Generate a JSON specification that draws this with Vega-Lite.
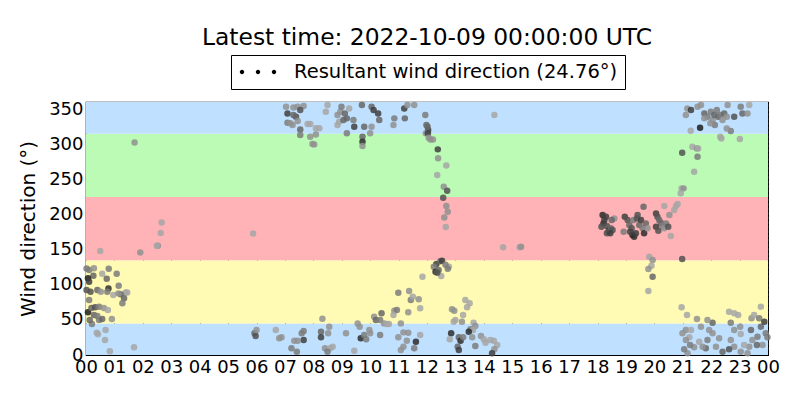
{
  "$schema": "https://vega.github.io/schema/vega-lite/v6.json",
  "autosize": {"type": "none"},
  "width": 682,
  "height": 253,
  "padding": {"left": 86, "top": 102, "right": 32, "bottom": 45},
  "background": "white",
  "title": {
    "text": "Latest time: 2022-10-09 00:00:00 UTC",
    "fontSize": 23.4,
    "fontWeight": "normal",
    "color": "black",
    "anchor": "middle",
    "frame": "group",
    "baseline": "alphabetic",
    "offset": -14
  },
  "config": {
    "font": "DejaVu Sans",
    "view": {"stroke": "black", "strokeWidth": 1.2},
    "axis": {
      "domain": false,
      "grid": true,
      "gridColor": "black",
      "gridDash": [1.5, 3],
      "gridOpacity": 1,
      "gridWidth": 1,
      "ticks": true,
      "tickSize": -5,
      "tickColor": "black",
      "tickWidth": 1,
      "labelFontSize": 18,
      "labelColor": "black",
      "labelPadding": 8,
      "labelOverlap": false,
      "labelFlush": false,
      "titleFontSize": 20,
      "titleFontWeight": "normal",
      "titleColor": "black",
      "zindex": 1
    }
  },
  "datasets": {
    "bands": [
      {"lo": 0, "hi": 45, "zone": "N"},
      {"lo": 45, "hi": 135, "zone": "E"},
      {"lo": 135, "hi": 225, "zone": "S"},
      {"lo": 225, "hi": 315, "zone": "W"},
      {"lo": 315, "hi": 360, "zone": "N2"}
    ],
    "obs": [
      {"hour": 1.71, "dir": 302.5, "spd": 3}, {"hour": 2.66, "dir": 188.7, "spd": 2}, {"hour": 2.63, "dir": 173.6, "spd": 2},
      {"hour": 2.53, "dir": 155.5, "spd": 3}, {"hour": 2.49, "dir": 155.5, "spd": 2}, {"hour": 1.91, "dir": 146, "spd": 3},
      {"hour": 0.5, "dir": 148, "spd": 2}, {"hour": 5.88, "dir": 173, "spd": 2}, {"hour": 1.69, "dir": 10.9, "spd": 2},
      {"hour": 0.84, "dir": 5.2, "spd": 2}, {"hour": 0.67, "dir": 21.3, "spd": 2}, {"hour": 0.42, "dir": 29.4, "spd": 2},
      {"hour": 0.38, "dir": 31.8, "spd": 2}, {"hour": 0.69, "dir": 35.6, "spd": 2}, {"hour": 0.21, "dir": 44.1, "spd": 4},
      {"hour": 0.13, "dir": 49.8, "spd": 5}, {"hour": 0.46, "dir": 49.8, "spd": 4}, {"hour": 0.57, "dir": 51.2, "spd": 5},
      {"hour": 0.91, "dir": 51.2, "spd": 3}, {"hour": 0.07, "dir": 60.7, "spd": 9}, {"hour": 0.19, "dir": 66.9, "spd": 5},
      {"hour": 0.32, "dir": 67.8, "spd": 6}, {"hour": 0.46, "dir": 68.8, "spd": 4}, {"hour": 0.63, "dir": 66.9, "spd": 3},
      {"hour": 0.77, "dir": 64.0, "spd": 2}, {"hour": 0.28, "dir": 56.9, "spd": 5}, {"hour": 0.4, "dir": 55.5, "spd": 4},
      {"hour": 1.15, "dir": 98.6, "spd": 4}, {"hour": 1.4, "dir": 89.1, "spd": 2}, {"hour": 1.45, "dir": 89.1, "spd": 2},
      {"hour": 1.34, "dir": 80.6, "spd": 5}, {"hour": 1.28, "dir": 73.5, "spd": 4}, {"hour": 1.22, "dir": 86.3, "spd": 5},
      {"hour": 0.11, "dir": 120.9, "spd": 4}, {"hour": 0.28, "dir": 123.3, "spd": 3}, {"hour": 0.8, "dir": 122.8, "spd": 4},
      {"hour": 1.08, "dir": 115.7, "spd": 4}, {"hour": 0.57, "dir": 115.7, "spd": 2}, {"hour": 0.26, "dir": 112.9, "spd": 5},
      {"hour": 0.73, "dir": 108.6, "spd": 5}, {"hour": 0.07, "dir": 109.1, "spd": 9}, {"hour": 0.11, "dir": 104.3, "spd": 7},
      {"hour": 0.16, "dir": 90.1, "spd": 6}, {"hour": 0.02, "dir": 92.5, "spd": 6}, {"hour": 0.4, "dir": 92.5, "spd": 5},
      {"hour": 0.52, "dir": 90.1, "spd": 3}, {"hour": 0.79, "dir": 94.8, "spd": 8}, {"hour": 0.75, "dir": 90.1, "spd": 4},
      {"hour": 0.96, "dir": 85.4, "spd": 2}, {"hour": 1.14, "dir": 87.7, "spd": 3}, {"hour": 0.11, "dir": 78.3, "spd": 4},
      {"hour": 0.02, "dir": 123, "spd": 4},
      {"hour": 5.93, "dir": 30.8, "spd": 5}, {"hour": 5.97, "dir": 27, "spd": 6}, {"hour": 6.0, "dir": 35.6, "spd": 3},
      {"hour": 7.04, "dir": 353.3, "spd": 3}, {"hour": 7.09, "dir": 343.8, "spd": 7}, {"hour": 7.3, "dir": 352.3, "spd": 3},
      {"hour": 7.45, "dir": 353.3, "spd": 3}, {"hour": 7.66, "dir": 354.2, "spd": 3}, {"hour": 7.54, "dir": 348.5, "spd": 6},
      {"hour": 7.39, "dir": 339.1, "spd": 6}, {"hour": 7.3, "dir": 341.4, "spd": 5}, {"hour": 7.09, "dir": 330.5, "spd": 4},
      {"hour": 7.19, "dir": 329.6, "spd": 3}, {"hour": 7.27, "dir": 327.2, "spd": 3}, {"hour": 7.45, "dir": 332.9, "spd": 3},
      {"hour": 7.54, "dir": 321.0, "spd": 5}, {"hour": 7.8, "dir": 328.6, "spd": 2}, {"hour": 7.89, "dir": 328.6, "spd": 2},
      {"hour": 8.09, "dir": 322.5, "spd": 2}, {"hour": 8.21, "dir": 322.5, "spd": 2}, {"hour": 7.54, "dir": 313.0, "spd": 4},
      {"hour": 8.09, "dir": 313.9, "spd": 3}, {"hour": 7.89, "dir": 310.6, "spd": 3}, {"hour": 7.97, "dir": 300.2, "spd": 3},
      {"hour": 8.03, "dir": 299.7, "spd": 3}, {"hour": 8.44, "dir": 346.2, "spd": 2}, {"hour": 8.5, "dir": 355.6, "spd": 2},
      {"hour": 8.85, "dir": 341.4, "spd": 3}, {"hour": 8.95, "dir": 346.2, "spd": 3}, {"hour": 8.91, "dir": 332.0, "spd": 2},
      {"hour": 9.06, "dir": 334.3, "spd": 5}, {"hour": 9.11, "dir": 343.8, "spd": 5}, {"hour": 9.26, "dir": 350.9, "spd": 2},
      {"hour": 8.99, "dir": 353.3, "spd": 4}, {"hour": 8.85, "dir": 327.2, "spd": 2}, {"hour": 9.18, "dir": 315.4, "spd": 4},
      {"hour": 9.18, "dir": 336.7, "spd": 5}, {"hour": 9.44, "dir": 324.9, "spd": 7}, {"hour": 9.41, "dir": 334.3, "spd": 4},
      {"hour": 9.71, "dir": 355.6, "spd": 5}, {"hour": 9.79, "dir": 324.9, "spd": 5}, {"hour": 9.73, "dir": 310.6, "spd": 5},
      {"hour": 9.73, "dir": 303.5, "spd": 8}, {"hour": 9.73, "dir": 297.3, "spd": 3}, {"hour": 10.0, "dir": 315.4, "spd": 3},
      {"hour": 10.05, "dir": 324.9, "spd": 3}, {"hour": 10.05, "dir": 353.3, "spd": 5}, {"hour": 10.12, "dir": 348.5, "spd": 7},
      {"hour": 10.32, "dir": 334.3, "spd": 5}, {"hour": 10.28, "dir": 343.8, "spd": 7}, {"hour": 10.82, "dir": 327.2, "spd": 3},
      {"hour": 10.85, "dir": 336.7, "spd": 4}, {"hour": 11.2, "dir": 350.9, "spd": 7}, {"hour": 11.22, "dir": 336.7, "spd": 5},
      {"hour": 11.31, "dir": 355.6, "spd": 3}, {"hour": 11.55, "dir": 355.6, "spd": 3}, {"hour": 12.04, "dir": 320.1, "spd": 7},
      {"hour": 11.96, "dir": 315.4, "spd": 3}, {"hour": 12.02, "dir": 324.9, "spd": 5},
      {"hour": 6.68, "dir": 35.6, "spd": 2}, {"hour": 6.8, "dir": 23.7, "spd": 3}, {"hour": 6.88, "dir": 25.1, "spd": 3},
      {"hour": 7.59, "dir": 30.8, "spd": 4}, {"hour": 7.66, "dir": 21.3, "spd": 7}, {"hour": 7.45, "dir": 20.4, "spd": 3},
      {"hour": 7.33, "dir": 20.4, "spd": 3}, {"hour": 7.66, "dir": 34.1, "spd": 4}, {"hour": 7.23, "dir": 9.5, "spd": 4},
      {"hour": 7.42, "dir": 4.7, "spd": 4}, {"hour": 8.32, "dir": 51.7, "spd": 3}, {"hour": 8.27, "dir": 33.2, "spd": 5},
      {"hour": 8.27, "dir": 25.1, "spd": 7}, {"hour": 8.56, "dir": 40.3, "spd": 3}, {"hour": 8.52, "dir": 30.8, "spd": 3},
      {"hour": 8.41, "dir": 9.5, "spd": 3}, {"hour": 8.59, "dir": 9.5, "spd": 2}, {"hour": 8.68, "dir": 11.9, "spd": 2},
      {"hour": 8.5, "dir": 4.7, "spd": 4}, {"hour": 9.15, "dir": 30.8, "spd": 3}, {"hour": 9.44, "dir": 6.2, "spd": 2},
      {"hour": 9.56, "dir": 45.0, "spd": 3}, {"hour": 9.63, "dir": 40.3, "spd": 3}, {"hour": 9.67, "dir": 23.7, "spd": 8},
      {"hour": 9.79, "dir": 28.4, "spd": 4}, {"hour": 9.97, "dir": 35.6, "spd": 3}, {"hour": 9.86, "dir": 22.3, "spd": 4},
      {"hour": 10.0, "dir": 30.8, "spd": 3}, {"hour": 10.14, "dir": 54.5, "spd": 3}, {"hour": 10.2, "dir": 49.8, "spd": 5},
      {"hour": 10.35, "dir": 49.8, "spd": 4}, {"hour": 10.4, "dir": 59.3, "spd": 5}, {"hour": 10.35, "dir": 28.4, "spd": 4},
      {"hour": 10.49, "dir": 45.0, "spd": 3}, {"hour": 10.59, "dir": 44.1, "spd": 2}, {"hour": 10.66, "dir": 44.1, "spd": 2},
      {"hour": 10.85, "dir": 63.1, "spd": 3}, {"hour": 10.94, "dir": 64.0, "spd": 4}, {"hour": 10.99, "dir": 88.7, "spd": 4},
      {"hour": 11.37, "dir": 91.1, "spd": 3}, {"hour": 11.43, "dir": 78.3, "spd": 4}, {"hour": 11.5, "dir": 83.0, "spd": 2},
      {"hour": 11.71, "dir": 79.2, "spd": 3}, {"hour": 11.76, "dir": 66.4, "spd": 2}, {"hour": 11.84, "dir": 111.4, "spd": 2},
      {"hour": 11.34, "dir": 60.7, "spd": 3}, {"hour": 10.82, "dir": 56.9, "spd": 2}, {"hour": 11.08, "dir": 45.0, "spd": 3},
      {"hour": 10.99, "dir": 25.1, "spd": 3}, {"hour": 11.17, "dir": 32.2, "spd": 3}, {"hour": 11.34, "dir": 31.8, "spd": 3},
      {"hour": 11.29, "dir": 20.4, "spd": 3}, {"hour": 11.61, "dir": 19.0, "spd": 8}, {"hour": 11.55, "dir": 9.5, "spd": 4},
      {"hour": 11.76, "dir": 28.4, "spd": 2}, {"hour": 11.17, "dir": 11.9, "spd": 3}, {"hour": 11.08, "dir": 7.1, "spd": 3},
      {"hour": 11.94, "dir": 341.4, "spd": 4}, {"hour": 11.98, "dir": 327.2, "spd": 5}, {"hour": 12.03, "dir": 315.4, "spd": 7},
      {"hour": 12.06, "dir": 309.2, "spd": 3}, {"hour": 12.12, "dir": 306.8, "spd": 3}, {"hour": 12.21, "dir": 306.8, "spd": 3},
      {"hour": 12.38, "dir": 292.6, "spd": 7}, {"hour": 12.39, "dir": 279.8, "spd": 3}, {"hour": 12.68, "dir": 269.8, "spd": 2},
      {"hour": 12.36, "dir": 256.1, "spd": 2}, {"hour": 12.59, "dir": 239.5, "spd": 3}, {"hour": 12.71, "dir": 233.8, "spd": 6},
      {"hour": 12.57, "dir": 223.8, "spd": 6}, {"hour": 12.68, "dir": 212.0, "spd": 3}, {"hour": 12.73, "dir": 203.9, "spd": 3},
      {"hour": 12.61, "dir": 195.8, "spd": 3}, {"hour": 12.66, "dir": 182.1, "spd": 2}, {"hour": 12.33, "dir": 129.5, "spd": 7},
      {"hour": 12.47, "dir": 133.3, "spd": 5}, {"hour": 12.53, "dir": 134.2, "spd": 7}, {"hour": 12.24, "dir": 125.7, "spd": 4},
      {"hour": 12.3, "dir": 118.6, "spd": 8}, {"hour": 12.41, "dir": 120.9, "spd": 5}, {"hour": 12.5, "dir": 112.4, "spd": 2},
      {"hour": 12.77, "dir": 125.7, "spd": 2}, {"hour": 12.73, "dir": 122.8, "spd": 4}, {"hour": 12.65, "dir": 128.5, "spd": 4},
      {"hour": 12.36, "dir": 117.1, "spd": 6}, {"hour": 14.68, "dir": 153.2, "spd": 2}, {"hour": 15.26, "dir": 153.2, "spd": 2},
      {"hour": 15.31, "dir": 154.1, "spd": 3}, {"hour": 14.37, "dir": 341.4, "spd": 2},
      {"hour": 13.35, "dir": 78.3, "spd": 2}, {"hour": 13.5, "dir": 73.5, "spd": 2}, {"hour": 13.41, "dir": 67.8, "spd": 2},
      {"hour": 12.88, "dir": 65.0, "spd": 3}, {"hour": 12.96, "dir": 63.1, "spd": 3}, {"hour": 13.0, "dir": 49.8, "spd": 2},
      {"hour": 13.27, "dir": 56.9, "spd": 2}, {"hour": 13.23, "dir": 47.4, "spd": 3}, {"hour": 12.94, "dir": 47.4, "spd": 2},
      {"hour": 13.64, "dir": 46.0, "spd": 2}, {"hour": 13.7, "dir": 41.3, "spd": 3}, {"hour": 13.53, "dir": 36.5, "spd": 4},
      {"hour": 13.62, "dir": 35.6, "spd": 2}, {"hour": 13.47, "dir": 33.2, "spd": 8}, {"hour": 12.85, "dir": 30.8, "spd": 8},
      {"hour": 12.8, "dir": 22.3, "spd": 2}, {"hour": 13.12, "dir": 25.1, "spd": 5}, {"hour": 13.18, "dir": 20.4, "spd": 8},
      {"hour": 13.27, "dir": 25.1, "spd": 4}, {"hour": 13.59, "dir": 25.1, "spd": 3}, {"hour": 13.08, "dir": 11.9, "spd": 5},
      {"hour": 13.12, "dir": 7.1, "spd": 7}, {"hour": 13.7, "dir": 12.8, "spd": 4}, {"hour": 13.9, "dir": 27.0, "spd": 3},
      {"hour": 14.0, "dir": 22.3, "spd": 2}, {"hour": 14.06, "dir": 17.5, "spd": 2}, {"hour": 14.23, "dir": 21.3, "spd": 2},
      {"hour": 14.35, "dir": 20.4, "spd": 2}, {"hour": 14.47, "dir": 14.2, "spd": 2}, {"hour": 14.37, "dir": 8.1, "spd": 3},
      {"hour": 14.29, "dir": 2.4, "spd": 7},
      {"hour": 18.18, "dir": 199.2, "spd": 8}, {"hour": 18.3, "dir": 196.8, "spd": 7}, {"hour": 18.21, "dir": 187.3, "spd": 8},
      {"hour": 18.33, "dir": 183.5, "spd": 6}, {"hour": 18.41, "dir": 177.8, "spd": 7}, {"hour": 18.38, "dir": 175.5, "spd": 6},
      {"hour": 18.47, "dir": 180.2, "spd": 5}, {"hour": 18.53, "dir": 177.8, "spd": 6}, {"hour": 18.59, "dir": 194.4, "spd": 3},
      {"hour": 18.24, "dir": 192.0, "spd": 7}, {"hour": 18.33, "dir": 173.1, "spd": 6}, {"hour": 18.45, "dir": 173.1, "spd": 7},
      {"hour": 18.14, "dir": 182.6, "spd": 6}, {"hour": 18.5, "dir": 192.0, "spd": 5},
      {"hour": 18.96, "dir": 196.8, "spd": 7}, {"hour": 19.06, "dir": 192.0, "spd": 6}, {"hour": 19.12, "dir": 184.9, "spd": 5},
      {"hour": 19.2, "dir": 180.2, "spd": 6}, {"hour": 19.23, "dir": 170.7, "spd": 8}, {"hour": 19.29, "dir": 168.4, "spd": 8},
      {"hour": 19.35, "dir": 173.1, "spd": 7}, {"hour": 19.27, "dir": 192.0, "spd": 4}, {"hour": 19.39, "dir": 194.4, "spd": 6},
      {"hour": 19.47, "dir": 184.9, "spd": 5}, {"hour": 19.53, "dir": 192.0, "spd": 7}, {"hour": 19.59, "dir": 180.2, "spd": 4},
      {"hour": 19.64, "dir": 173.1, "spd": 8}, {"hour": 19.7, "dir": 187.3, "spd": 5}, {"hour": 19.76, "dir": 180.2, "spd": 3},
      {"hour": 19.62, "dir": 211.0, "spd": 5}, {"hour": 18.92, "dir": 175.5, "spd": 4}, {"hour": 19.41, "dir": 199.2, "spd": 6},
      {"hour": 19.15, "dir": 175.5, "spd": 7},
      {"hour": 20.06, "dir": 201.5, "spd": 7}, {"hour": 20.11, "dir": 196.8, "spd": 6}, {"hour": 20.17, "dir": 192.0, "spd": 5},
      {"hour": 20.23, "dir": 188.3, "spd": 5}, {"hour": 20.29, "dir": 183.5, "spd": 4}, {"hour": 20.35, "dir": 180.2, "spd": 3},
      {"hour": 20.41, "dir": 187.3, "spd": 4}, {"hour": 20.49, "dir": 182.6, "spd": 6}, {"hour": 20.58, "dir": 169.3, "spd": 2},
      {"hour": 20.06, "dir": 182.6, "spd": 7}, {"hour": 20.14, "dir": 176.9, "spd": 6}, {"hour": 20.35, "dir": 212.0, "spd": 2},
      {"hour": 20.53, "dir": 199.2, "spd": 3}, {"hour": 20.7, "dir": 206.3, "spd": 2}, {"hour": 20.76, "dir": 212.0, "spd": 2},
      {"hour": 20.82, "dir": 214.8, "spd": 2}, {"hour": 20.96, "dir": 237.1, "spd": 2}, {"hour": 21.03, "dir": 237.1, "spd": 3},
      {"hour": 20.93, "dir": 230.0, "spd": 2}, {"hour": 20.98, "dir": 287.9, "spd": 6}, {"hour": 20.98, "dir": 136.6, "spd": 6},
      {"hour": 19.82, "dir": 139.9, "spd": 2}, {"hour": 19.94, "dir": 135.1, "spd": 3}, {"hour": 19.9, "dir": 127.1, "spd": 2},
      {"hour": 19.79, "dir": 122.3, "spd": 3}, {"hour": 19.94, "dir": 111.4, "spd": 5}, {"hour": 19.79, "dir": 91.1, "spd": 2},
      {"hour": 21.34, "dir": 296.4, "spd": 2}, {"hour": 21.5, "dir": 294.0, "spd": 3}, {"hour": 21.54, "dir": 294.0, "spd": 2},
      {"hour": 21.52, "dir": 282.1, "spd": 4}, {"hour": 21.4, "dir": 260.8, "spd": 2}, {"hour": 21.28, "dir": 319.1, "spd": 2},
      {"hour": 21.61, "dir": 323.4, "spd": 9}, {"hour": 22.32, "dir": 310.6, "spd": 2}, {"hour": 22.36, "dir": 308.2, "spd": 2},
      {"hour": 22.69, "dir": 318.6, "spd": 4}, {"hour": 23.01, "dir": 307.3, "spd": 2}, {"hour": 22.55, "dir": 322.4, "spd": 3},
      {"hour": 21.11, "dir": 341.4, "spd": 3}, {"hour": 21.16, "dir": 350.9, "spd": 3}, {"hour": 21.29, "dir": 348.5, "spd": 7},
      {"hour": 21.52, "dir": 353.3, "spd": 3}, {"hour": 21.64, "dir": 355.6, "spd": 3}, {"hour": 21.76, "dir": 343.8, "spd": 5},
      {"hour": 21.87, "dir": 339.1, "spd": 4}, {"hour": 21.99, "dir": 346.2, "spd": 4}, {"hour": 22.05, "dir": 334.3, "spd": 3},
      {"hour": 22.11, "dir": 341.4, "spd": 5}, {"hour": 22.2, "dir": 348.5, "spd": 4}, {"hour": 22.25, "dir": 339.1, "spd": 5},
      {"hour": 22.32, "dir": 341.4, "spd": 4}, {"hour": 22.4, "dir": 334.3, "spd": 3}, {"hour": 22.46, "dir": 343.8, "spd": 5},
      {"hour": 22.58, "dir": 355.6, "spd": 3}, {"hour": 22.55, "dir": 339.1, "spd": 3}, {"hour": 22.81, "dir": 339.1, "spd": 6},
      {"hour": 23.04, "dir": 353.3, "spd": 4}, {"hour": 23.1, "dir": 343.8, "spd": 5}, {"hour": 23.28, "dir": 343.8, "spd": 3},
      {"hour": 23.34, "dir": 355.6, "spd": 2}, {"hour": 21.76, "dir": 336.7, "spd": 3}, {"hour": 22.13, "dir": 327.2, "spd": 4},
      {"hour": 21.97, "dir": 329.6, "spd": 3},
      {"hour": 20.96, "dir": 67.8, "spd": 2}, {"hour": 21.15, "dir": 56.9, "spd": 2}, {"hour": 21.5, "dir": 51.2, "spd": 3},
      {"hour": 22.05, "dir": 46.0, "spd": 5}, {"hour": 22.63, "dir": 61.7, "spd": 2}, {"hour": 22.81, "dir": 59.3, "spd": 2},
      {"hour": 22.95, "dir": 56.9, "spd": 2}, {"hour": 22.69, "dir": 46.0, "spd": 4}, {"hour": 22.81, "dir": 35.6, "spd": 3},
      {"hour": 23.02, "dir": 40.3, "spd": 3}, {"hour": 23.04, "dir": 29.9, "spd": 2}, {"hour": 23.4, "dir": 35.6, "spd": 5},
      {"hour": 23.42, "dir": 52.2, "spd": 3}, {"hour": 23.51, "dir": 56.9, "spd": 2}, {"hour": 23.75, "dir": 68.8, "spd": 2},
      {"hour": 23.69, "dir": 52.2, "spd": 4}, {"hour": 23.75, "dir": 40.3, "spd": 5}, {"hour": 23.87, "dir": 47.4, "spd": 7},
      {"hour": 23.92, "dir": 30.8, "spd": 4}, {"hour": 23.63, "dir": 26.1, "spd": 4}, {"hour": 23.45, "dir": 21.3, "spd": 3},
      {"hour": 23.34, "dir": 11.9, "spd": 3}, {"hour": 23.16, "dir": 14.2, "spd": 2}, {"hour": 23.04, "dir": 4.7, "spd": 3},
      {"hour": 22.81, "dir": 11.9, "spd": 3}, {"hour": 22.69, "dir": 21.3, "spd": 3}, {"hour": 22.63, "dir": 8.1, "spd": 6},
      {"hour": 22.4, "dir": 4.7, "spd": 5}, {"hour": 22.28, "dir": 23.7, "spd": 3}, {"hour": 22.17, "dir": 11.9, "spd": 3},
      {"hour": 22.05, "dir": 30.8, "spd": 3}, {"hour": 21.93, "dir": 35.6, "spd": 3}, {"hour": 21.87, "dir": 21.3, "spd": 4},
      {"hour": 21.81, "dir": 9.5, "spd": 5}, {"hour": 21.7, "dir": 11.9, "spd": 3}, {"hour": 21.58, "dir": 19.0, "spd": 2},
      {"hour": 21.4, "dir": 10.9, "spd": 3}, {"hour": 21.26, "dir": 14.2, "spd": 4}, {"hour": 21.17, "dir": 2.4, "spd": 3},
      {"hour": 21.05, "dir": 8.1, "spd": 4}, {"hour": 21.23, "dir": 25.1, "spd": 2}, {"hour": 21.11, "dir": 35.6, "spd": 3},
      {"hour": 21.29, "dir": 35.6, "spd": 2}, {"hour": 21.64, "dir": 40.3, "spd": 3}, {"hour": 21.87, "dir": 49.8, "spd": 3},
      {"hour": 23.98, "dir": 25.1, "spd": 4}, {"hour": 23.81, "dir": 14.2, "spd": 3}, {"hour": 23.61, "dir": 14.2, "spd": 5},
      {"hour": 23.28, "dir": 2.4, "spd": 3}, {"hour": 20.99, "dir": 30.8, "spd": 3}, {"hour": 21.11, "dir": 21.3, "spd": 3}
    ]
  },
  "layer": [
    {
      "data": {"name": "bands"},
      "mark": {"type": "rect"},
      "encoding": {
        "x": {
          "datum": 0,
          "type": "quantitative",
          "scale": {"domain": [0, 24], "nice": false, "zero": false},
          "axis": {
            "title": null,
            "values": [0, 1, 2, 3, 4, 5, 6, 7, 8, 9, 10, 11, 12, 13, 14, 15, 16, 17, 18, 19, 20, 21, 22, 23, 24],
            "labelExpr": "(datum.value % 24 < 10 ? '0' : '') + (datum.value % 24)"
          }
        },
        "x2": {"datum": 24},
        "y": {
          "field": "lo",
          "type": "quantitative",
          "scale": {"domain": [0, 360], "nice": false},
          "axis": {
            "title": "Wind direction (°)",
            "titlePadding": 10,
            "values": [0, 50, 100, 150, 200, 250, 300, 350]
          }
        },
        "y2": {"field": "hi"},
        "fill": {
          "field": "zone",
          "type": "nominal",
          "scale": {
            "domain": ["N", "E", "S", "W", "N2"],
            "range": ["#bfe0ff", "#fffab4", "#ffb3b6", "#bbfbb6", "#bfe0ff"]
          },
          "legend": null
        }
      }
    },
    {
      "data": {"name": "obs"},
      "mark": {"type": "circle", "size": 42, "opacity": 0.85},
      "encoding": {
        "x": {
          "field": "hour",
          "type": "quantitative",
          "axis": {
            "title": null,
            "values": [0, 1, 2, 3, 4, 5, 6, 7, 8, 9, 10, 11, 12, 13, 14, 15, 16, 17, 18, 19, 20, 21, 22, 23, 24],
            "labelExpr": "(datum.value % 24 < 10 ? '0' : '') + (datum.value % 24)"
          }
        },
        "y": {
          "field": "dir",
          "type": "quantitative",
          "axis": {
            "title": "Wind direction (°)",
            "titlePadding": 10,
            "values": [0, 50, 100, 150, 200, 250, 300, 350]
          }
        },
        "color": {
          "field": "spd",
          "type": "quantitative",
          "scale": {"domain": [2, 9], "range": ["#a6a6a6", "#1c1c1c"]},
          "legend": null
        }
      }
    },
    {
      "data": {"values": [{"label": "Resultant wind direction (24.76°)"}]},
      "mark": {"type": "point", "filled": true, "clip": true, "opacity": 1, "color": "black"},
      "encoding": {
        "x": {
          "datum": -10,
          "type": "quantitative",
          "axis": {
            "title": null,
            "values": [0, 1, 2, 3, 4, 5, 6, 7, 8, 9, 10, 11, 12, 13, 14, 15, 16, 17, 18, 19, 20, 21, 22, 23, 24],
            "labelExpr": "(datum.value % 24 < 10 ? '0' : '') + (datum.value % 24)"
          }
        },
        "y": {
          "datum": -10,
          "type": "quantitative",
          "axis": {
            "title": "Wind direction (°)",
            "titlePadding": 10,
            "values": [0, 50, 100, 150, 200, 250, 300, 350]
          }
        },
        "shape": {
          "field": "label",
          "type": "nominal",
          "scale": {"range": ["M-1.82,0a0.22,0.22 0 1,0 0.44,0a0.22,0.22 0 1,0 -0.44,0Z M-0.22,0a0.22,0.22 0 1,0 0.44,0a0.22,0.22 0 1,0 -0.44,0Z M1.38,0a0.22,0.22 0 1,0 0.44,0a0.22,0.22 0 1,0 -0.44,0Z"]},
          "legend": {
            "title": null,
            "orient": "none",
            "legendX": 145,
            "legendY": -47,
            "padding": 7,
            "strokeColor": "black",
            "fillColor": "white",
            "cornerRadius": 0,
            "labelFontSize": 19.5,
            "labelColor": "black",
            "labelLimit": 0,
            "labelOffset": 26,
            "symbolSize": 400,
            "symbolOffset": 10,
            "symbolFillColor": "black",
            "symbolStrokeWidth": 0,
            "symbolOpacity": 1
          }
        }
      }
    }
  ]
}
